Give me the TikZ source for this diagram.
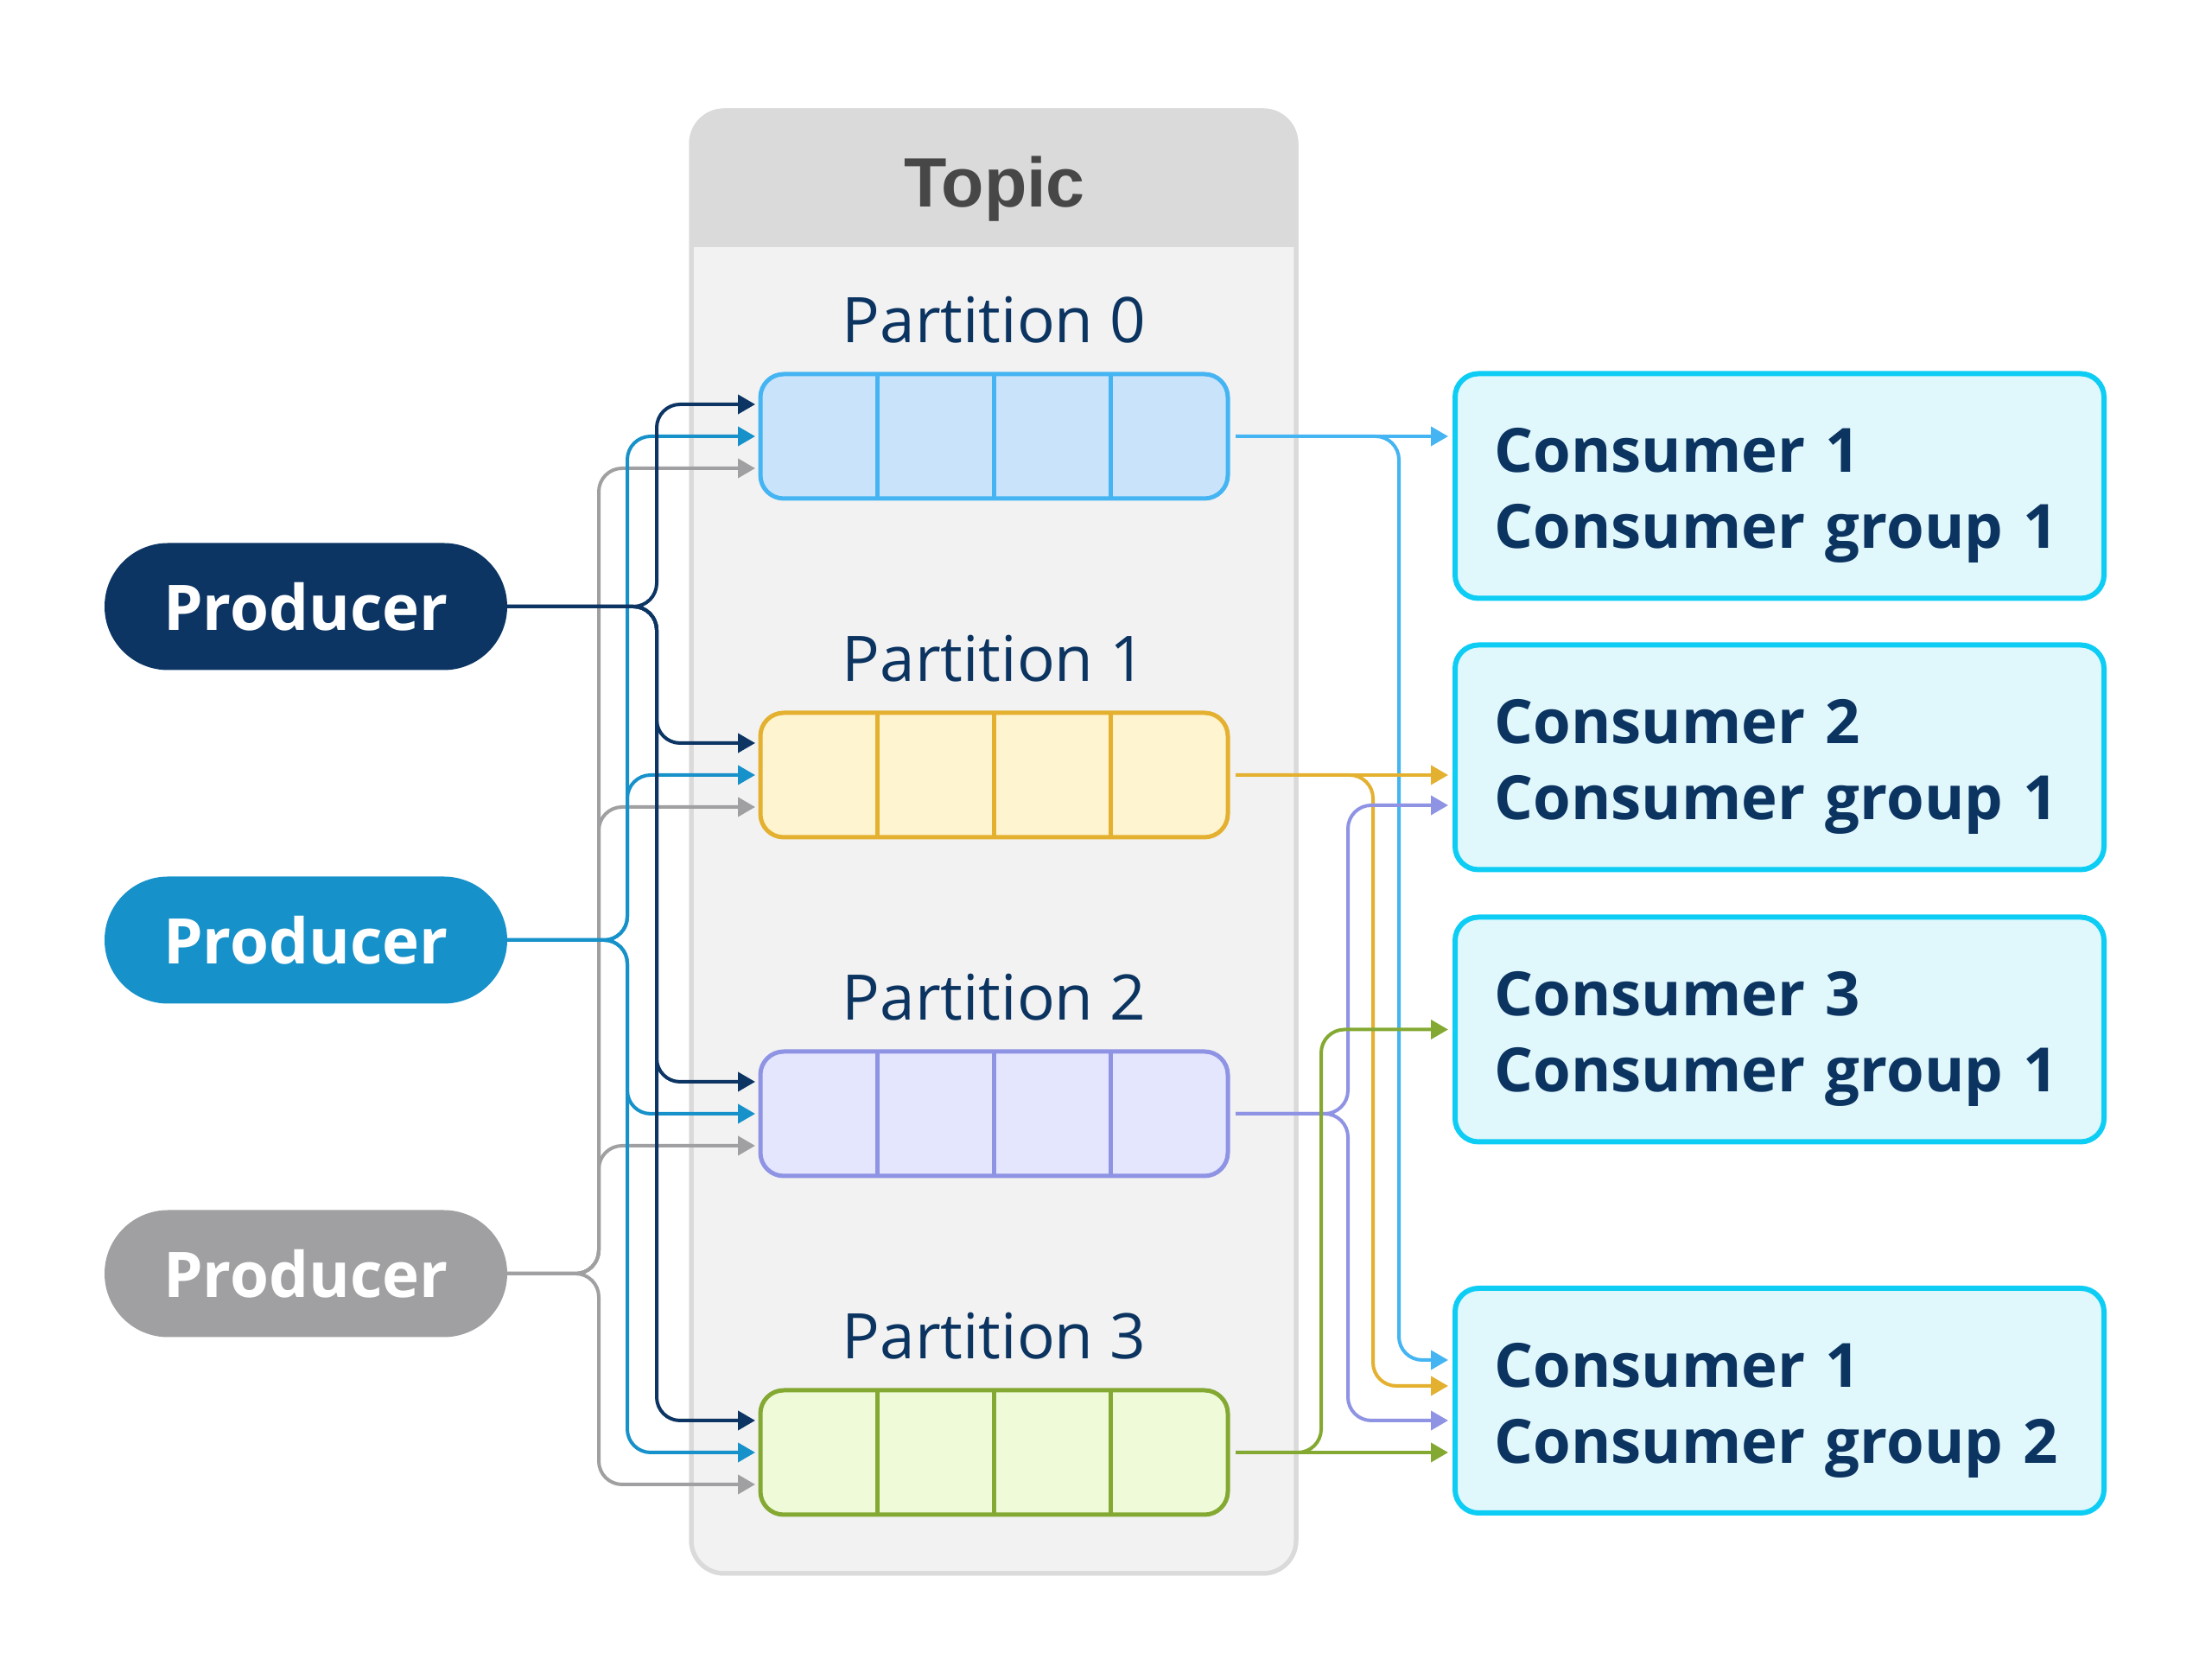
\documentclass[tikz,border=0pt]{standalone}
\usepackage{fontspec}
\setmainfont{Open Sans}
\newfontfamily\topicfont{Liberation Sans}
\usepackage{tikz}
\usetikzlibrary{arrows.meta,positioning,calc}

\definecolor{navyc}{HTML}{0C3564}
\definecolor{bluec}{HTML}{1791C9}
\definecolor{grayc}{HTML}{A0A0A2}
\definecolor{inkc}{HTML}{0C3461}
\definecolor{headc}{HTML}{DADADA}
\definecolor{bodyc}{HTML}{F2F2F2}
\definecolor{topicc}{HTML}{474747}
\definecolor{skyc}{HTML}{45B4F2}
\definecolor{skyf}{HTML}{C9E3FA}
\definecolor{sunc}{HTML}{E4B030}
\definecolor{sunf}{HTML}{FFF4D0}
\definecolor{lilac}{HTML}{8F93E4}
\definecolor{lilaf}{HTML}{E4E6FD}
\definecolor{leafc}{HTML}{84A933}
\definecolor{leaff}{HTML}{EFFAD9}
\definecolor{cyanc}{HTML}{0ECDF4}
\definecolor{cyanf}{HTML}{E0F7FC}

\tikzset{
  producer/.style={fill=#1, rounded corners=7.35mm, minimum width=4.66cm,
    minimum height=1.47cm, inner sep=0, outer sep=0, text=white,
    font=\fontsize{20.7}{24}\selectfont\bfseries},
  partition/.style 2 args={draw=#1, fill=#2, line width=0.5mm,
    rounded corners=2.7mm, minimum width=5.41cm, minimum height=1.44cm,
    inner sep=0, outer sep=0},
  plabel/.style={text=inkc, font=\fontsize{20.7}{24}\selectfont},
  consumer/.style={draw=cyanc, fill=cyanf, line width=0.6mm,
    rounded corners=2.7mm, minimum width=7.51cm, minimum height=2.6cm,
    text width=6.6cm, align=left, inner sep=0, outer sep=0, text=inkc,
    font=\fontsize{20.1}{25}\selectfont\bfseries,
    execute at begin node={\rule{0pt}{21pt}}},
  feed/.style={draw=#1, line width=0.4mm, rounded corners=2.7mm,
    -{Triangle[length=2mm,width=2.2mm]}}
}

\begin{document}
\begin{tikzpicture}
\useasboundingbox (0,0) rectangle (25.6,19.2);

\node[draw=headc, fill=bodyc, line width=0.5mm, rounded corners=3.8mm,
  minimum width=7cm, minimum height=16.93cm, outer sep=0] (topic) at (11.5,9.455) {};
\begin{scope}
\clip[rounded corners=3.8mm] (topic.south west) rectangle (topic.north east);
\fill[headc] (topic.north west) rectangle ($(topic.north east)+(0,-1.58)$);
\end{scope}
\draw[headc, line width=0.5mm, rounded corners=3.8mm] (topic.south west) rectangle (topic.north east);
\node[text=topicc, font=\fontsize{23}{26}\selectfont\topicfont\bfseries, anchor=base] (topiclbl) at (11.51,16.80) {Topic};

\node[partition={skyc}{skyf}] (part0) at (11.505,14.15) {};
\node[partition={sunc}{sunf}, below=2.48cm of part0] (part1) {};
\node[partition={lilac}{lilaf}, below=2.48cm of part1] (part2) {};
\node[partition={leafc}{leaff}, below=2.48cm of part2] (part3) {};
\foreach \p/\c in {0/skyc,1/sunc,2/lilac,3/leafc} {
  \foreach \k in {1,2,3}
    \draw[\c, line width=0.5mm] ($(part\p.north west)!\k/4!(part\p.north east)$) -- ($(part\p.south west)!\k/4!(part\p.south east)$);
  \node[plabel, anchor=base] (lbl\p) at ($(part\p.north)+(0,0.36)$) {Partition \p};
}

\node[producer=navyc] (prodA) at (3.54,12.18) {Producer};
\node[producer=bluec] (prodB) at (3.54,8.32) {Producer};
\node[producer=grayc] (prodC) at (3.54,4.46) {Producer};

\node[consumer] (cons1) at (20.595,13.575) {Consumer 1\\Consumer group 1};
\node[consumer] (cons2) at (20.595,10.435) {Consumer 2\\Consumer group 1};
\node[consumer] (cons3) at (20.595,7.285) {Consumer 3\\Consumer group 1};
\node[consumer] (cons4) at (20.595,2.99) {Consumer 1\\Consumer group 2};

\foreach \p in {0,...,3} {
  \draw[feed=grayc] (prodC.east) -| ($(part\p.west)+(-1.87,-0.37)$) -- ($(part\p.west)+(-0.06,-0.37)$);
  \draw[feed=bluec] (prodB.east) -| ($(part\p.west)+(-1.54,0)$) -- ($(part\p.west)+(-0.06,0)$);
  \draw[feed=navyc] (prodA.east) -| ($(part\p.west)+(-1.20,0.37)$) -- ($(part\p.west)+(-0.06,0.37)$);
}

\coordinate (in2b) at ($(cons2.west)+(-0.08,-0.555)$);
\coordinate (in3) at ($(cons3.west)+(-0.08,0)$);
\coordinate (in4a) at ($(cons4.west)+(-0.08,0.47)$);
\coordinate (in4b) at ($(cons4.west)+(-0.08,0.17)$);
\coordinate (in4c) at ($(cons4.west)+(-0.08,-0.23)$);

\draw[feed=skyc, shorten <=0.9mm] (part0.east) -- ($(part0.east -| cons1.west)+(-0.08,0)$);
\draw[feed=skyc, shorten <=0.9mm] (part0.east) -| ($(in4a)+(-0.57,0)$) -- (in4a);
\draw[feed=sunc, shorten <=0.9mm] (part1.east) -- ($(part1.east -| cons2.west)+(-0.08,0)$);
\draw[feed=sunc, shorten <=0.9mm] (part1.east) -| ($(in4b)+(-0.87,0)$) -- (in4b);
\draw[feed=lilac, shorten <=0.9mm] (part2.east) -| ($(in2b)+(-1.16,0)$) -- (in2b);
\draw[feed=lilac, shorten <=0.9mm] (part2.east) -| ($(in4c)+(-1.16,0)$) -- (in4c);
\draw[feed=leafc, shorten <=0.9mm] (part3.east) -| ($(in3)+(-1.47,0)$) -- (in3);
\draw[feed=leafc, shorten <=0.9mm] (part3.east) -- ($(part3.east -| cons4.west)+(-0.08,0)$);
\end{tikzpicture}
\end{document}
